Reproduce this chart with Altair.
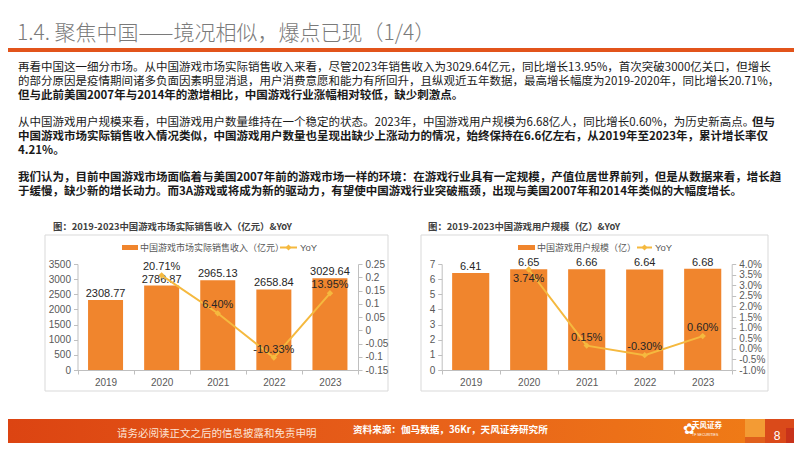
import altair as alt
import pandas as pd

# ---------------- data ----------------
years = ["2019", "2020", "2021", "2022", "2023"]
revenue = [2308.77, 2786.87, 2965.13, 2658.84, 3029.64]
revenue_yoy = [0.2071, 0.0640, -0.1033, 0.1395]          # 2020-2023
users = [6.41, 6.65, 6.66, 6.64, 6.68]
users_yoy = [0.0374, 0.0015, -0.0030, 0.0060]             # 2020-2023

rev_ticks = [0, 500, 1000, 1500, 2000, 2500, 3000, 3500]
rev_yoy_ticks = [-0.15, -0.1, -0.05, 0, 0.05, 0.1, 0.15, 0.2, 0.25]
user_ticks = [0, 1, 2, 3, 4, 5, 6, 7]
user_yoy_ticks = [-0.01, -0.005, 0, 0.005, 0.01, 0.015, 0.02, 0.025, 0.03, 0.035, 0.04]

page_title = "1.4. 聚焦中国——境况相似，爆点已现（1/4）"
para_lines = [
    ("再看中国这一细分市场。从中国游戏市场实际销售收入来看，尽管2023年销售收入为3029.64亿元，同比增长13.95%，首次突破3000亿关口，但增长", "normal"),
    ("的部分原因是疫情期间诸多负面因素明显消退，用户消费意愿和能力有所回升，且纵观近五年数据，最高增长幅度为2019-2020年，同比增长20.71%，", "normal"),
    ("但与此前美国2007年与2014年的激增相比，中国游戏行业涨幅相对较低，缺少刺激点。", "bold"),
    ("从中国游戏用户规模来看，中国游戏用户数量维持在一个稳定的状态。2023年，中国游戏用户规模为6.68亿人，同比增长0.60%，为历史新高点。", "normal"),
    ("中国游戏市场实际销售收入情况类似，中国游戏用户数量也呈现出缺少上涨动力的情况，始终保持在6.6亿左右，从2019年至2023年，累计增长率仅", "bold"),
    ("4.21%。", "bold"),
    ("我们认为，目前中国游戏市场面临着与美国2007年前的游戏市场一样的环境：在游戏行业具有一定规模，产值位居世界前列，但是从数据来看，增长趋", "bold"),
    ("于缓慢，缺少新的增长动力。而3A游戏或将成为新的驱动力，有望使中国游戏行业突破瓶颈，出现与美国2007年和2014年类似的大幅度增长。", "bold"),
]
para_tail = "但与"
chart1_title = "图：2019-2023中国游戏市场实际销售收入（亿元）&YoY"
chart2_title = "图：2019-2023中国游戏用户规模（亿）&YoY"
legend1_bar = "中国游戏市场实际销售收入（亿元）"
legend2_bar = "中国游戏用户规模（亿）"
legend_line = "YoY"
footer_left = "请务必阅读正文之后的信息披露和免责申明"
footer_src = "资料来源：伽马数据，36Kr，天风证券研究所"
logo_text = "天风证券"
logo_sub = "TF SECURITIES"
page_no = "8"

# ---------------- styles ----------------
CJK = "Noto Sans CJK SC"
NUM = "Liberation Sans, Arial, Noto Sans CJK SC"
BAR = "#F0852D"
LINE = "#F5B93F"
ORANGE = "#E2541B"
AX = "#BFBFBF"
LAB = "#595959"

one = pd.DataFrame({"k": [0]})


def txt(s, x, y, size=11.5, weight="normal", color="#1a1a1a", font=CJK,
        align="left", baseline="middle"):
    return alt.Chart(one).mark_text(
        text=s, fontSize=size, fontWeight=weight, color=color, font=font,
        align=align, baseline=baseline
    ).encode(x=alt.value(x), y=alt.value(y))


def box(x0, x1, y0, y1, fill=None, stroke=None, sw=1):
    kw = {}
    if fill is not None:
        kw["fill"] = fill
    else:
        kw["fillOpacity"] = 0
    if stroke is not None:
        kw["stroke"] = stroke
        kw["strokeWidth"] = sw
    return alt.Chart(one).mark_rect(**kw).encode(
        x=alt.value(x0), x2=alt.value(x1), y=alt.value(y0), y2=alt.value(y1))


axis_style = dict(title=None, grid=False, domainColor=AX, tickColor=AX, tickSize=4,
                  labelColor=LAB, labelFont=NUM, labelFontSize=10, labelPadding=3,
                  zindex=1)

Y0, Y1 = 362, 256   # plot bottom / top (chart px)


def dual_chart(vals, yoy, xr, ybar_dom, ybar_ticks, ybar_fmt, yl_off,
               yyoy_dom, yyoy_ticks, yyoy_expr, yr_off, bar_band, bar_fmt, below_years):
    dfb = pd.DataFrame({"year": years, "value": vals})
    dfl = pd.DataFrame({"year": years[1:], "yoy": yoy,
                        "label": [f"{v*100:.2f}%" for v in yoy]})
    xs = alt.Scale(type="band", domain=years, range=xr, paddingInner=0, paddingOuter=0)
    x_ax = alt.X("year:N", scale=xs,
                 axis=alt.Axis(orient="bottom", offset=-(435 - Y0), tickBand="extent",
                               labelAngle=0, **axis_style))
    x_no = alt.X("year:N", scale=xs, axis=None)
    yb = alt.Y("value:Q", scale=alt.Scale(domain=ybar_dom, range=[Y0, Y1], nice=False, zero=False),
               axis=alt.Axis(orient="left", offset=yl_off, values=ybar_ticks, format=ybar_fmt,
                             **axis_style))
    yl = alt.Y("yoy:Q", scale=alt.Scale(domain=yyoy_dom, range=[Y0, Y1], nice=False, zero=False),
               axis=alt.Axis(orient="right", offset=yr_off, values=yyoy_ticks,
                             labelExpr=yyoy_expr, **axis_style))
    bars = alt.Chart(dfb).mark_bar(color=BAR, width=alt.RelativeBandSize(bar_band)).encode(x=x_ax, y=yb)
    blab = alt.Chart(dfb).mark_text(baseline="bottom", dy=-1, font=NUM, fontSize=11,
                                    color="#262626").encode(
        x=x_ax, y=yb, text=alt.Text("value:Q", format=bar_fmt))
    bar_layer = alt.layer(bars, blab)
    line = alt.Chart(dfl).mark_line(color=LINE, strokeWidth=2).encode(x=x_no, y=yl)
    pts = alt.Chart(dfl).mark_point(shape="diamond", filled=True, size=40, color=LINE,
                                    opacity=1).encode(x=x_no, y=yl)
    cond_below = alt.FieldOneOfPredicate(field="year", oneOf=below_years)
    lab_up = alt.Chart(dfl).transform_filter(~cond_below).mark_text(
        baseline="bottom", dy=-3, font=NUM, fontSize=11, color="#262626").encode(
        x=x_no, y=yl, text="label:N")
    lab_dn = alt.Chart(dfl).transform_filter(cond_below).mark_text(
        baseline="top", dy=3, font=NUM, fontSize=11, color="#262626").encode(
        x=x_no, y=yl, text="label:N")
    line_layer = alt.layer(line, pts, lab_up, lab_dn)
    return bar_layer, line_layer


MINUS = "\u2212"
c1_bars, c1_line = dual_chart(
    revenue, revenue_yoy, [69.5, 350], [0, 3500], rev_ticks, "d", -69.5,
    [-0.15, 0.25], rev_yoy_ticks, f"replace(format(datum.value, '.2~f'), '{MINUS}', '-')",
    -(786 - 350), 0.624, ".2f", ["9999"])
c2_bars, c2_line = dual_chart(
    users, users_yoy, [433.7, 723.7], [0, 7], user_ticks, "d", -433.7,
    [-0.01, 0.04], user_yoy_ticks, f"replace(format(datum.value, '.1%'), '{MINUS}', '-')",
    -(786 - 723.7), 0.64, ".2f", ["2020"])

# ---------------- decorations & text ----------------
layers = []
# header
layers.append(txt(page_title, 9, 32, size=21, weight=300, color="#7a7a7a", baseline="alphabetic"))
layers.append(box(0, 786, 40, 44, fill=ORANGE))
ys = [60, 73.8, 87.6, 115.2, 129, 142.8, 170.4, 184.2]
for (s, w), y in zip(para_lines, ys):
    layers.append(txt(s, 10, y, weight=w))
layers.append(txt(para_tail, 744, ys[3], weight="bold"))

# chart frames
layers.append(box(37, 380, 227, 383, stroke="#D9D9D9"))
layers.append(box(413, 760, 227, 383, stroke="#D9D9D9"))
layers.append(txt(chart1_title, 45, 219, size=9.4, weight="bold", color="#404040"))
layers.append(txt(chart2_title, 420, 219, size=9.4, weight="bold", color="#404040"))

# legends
for (sx0, sx1, tx, lab, lx0, lx1, ltx) in [
        (114, 130, 132, legend1_bar, 272, 289, 292),
        (510, 527, 529, legend2_bar, 629, 644, 647)]:
    layers.append(box(sx0, sx1, 237, 242, fill=BAR))
    layers.append(txt(lab, tx, 239.5, size=9, color=LAB))
    layers.append(alt.Chart(one).mark_rule(color=LINE, strokeWidth=2).encode(
        x=alt.value(lx0), x2=alt.value(lx1), y=alt.value(239.5)))
    layers.append(alt.Chart(one).mark_point(shape="diamond", filled=True, size=35,
                                            color=LINE, opacity=1).encode(
        x=alt.value((lx0 + lx1) / 2), y=alt.value(239.5)))
    layers.append(txt(legend_line, ltx, 239.5, size=9.5, color=LAB, font=NUM))

# footer
grad = alt.LinearGradient(gradient="linear",
                          stops=[alt.GradientStop(color="#DC4412", offset=0),
                                 alt.GradientStop(color="#E8621A", offset=0.55),
                                 alt.GradientStop(color="#F07E16", offset=1)],
                          x1=0, x2=1, y1=0, y2=0)
layers.append(alt.Chart(one).mark_rect(color=grad).encode(
    x=alt.value(0), x2=alt.value(786), y=alt.value(411), y2=alt.value(435)))
layers.append(box(737, 757, 411, 429, fill="#F39B34"))
layers.append(box(737, 757, 429, 435, fill="#E0601C"))
layers.append(box(757, 786, 411, 435, fill="#DA4A1A"))
layers.append(box(778, 786, 420, 435, fill="#C8321A"))
layers.append(txt(footer_left, 109, 426, size=10.5, color="#FCE4D6"))
layers.append(txt(footer_src, 345, 422, size=9.6, weight="bold", color="white"))
layers.append(txt("\u273f", 675, 421, size=15, color="white", font="DejaVu Sans"))
layers.append(txt(logo_text, 684, 418, size=7.5, weight="bold", color="white"))
layers.append(txt(logo_sub, 684, 426.5, size=3.5, color="white", font=NUM))
layers.append(txt(page_no, 769, 428, size=12, color="white", font=NUM, align="center"))

chart = alt.layer(
    *layers, c1_bars, c1_line, c2_bars, c2_line
).resolve_scale(x="independent", y="independent").properties(
    width=786, height=435, autosize=alt.AutoSizeParams(type="none"), padding=0,
    background="white"
).configure_view(stroke=None)

chart.save("out.html", embed_options={"renderer": "svg", "actions": False})
